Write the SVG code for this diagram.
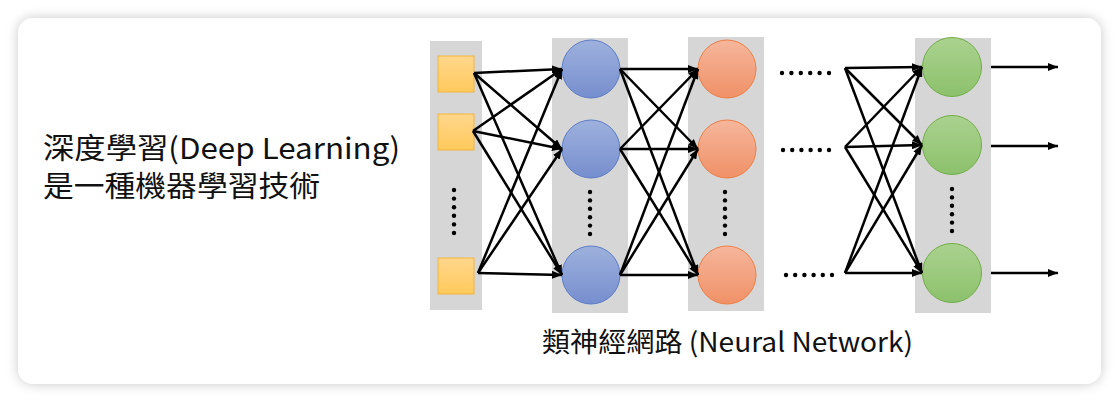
<svg xmlns="http://www.w3.org/2000/svg" width="1119" height="402" viewBox="0 0 1119 402">
<defs>
<filter id="sh" x="-5%" y="-10%" width="110%" height="120%">
<feDropShadow dx="0" dy="0" stdDeviation="6" flood-color="#000" flood-opacity="0.22"/>
</filter>
<linearGradient id="gy" x1="0" y1="0" x2="0" y2="1"><stop offset="0" stop-color="#FFD78C"/><stop offset="1" stop-color="#FFC95C"/></linearGradient>
<linearGradient id="gb" x1="0" y1="0" x2="0" y2="1"><stop offset="0" stop-color="#9EB1DD"/><stop offset="1" stop-color="#768ECE"/></linearGradient>
<linearGradient id="go" x1="0" y1="0" x2="0" y2="1"><stop offset="0" stop-color="#F6B69C"/><stop offset="1" stop-color="#F09167"/></linearGradient>
<linearGradient id="gg" x1="0" y1="0" x2="0" y2="1"><stop offset="0" stop-color="#AAD28F"/><stop offset="1" stop-color="#8CC16C"/></linearGradient>
<marker id="ah" viewBox="0 0 10 8" refX="10" refY="4" markerWidth="10" markerHeight="8" markerUnits="userSpaceOnUse" orient="auto"><path d="M0,0 L10,4 L0,8 Z" fill="#000"/></marker>
</defs>
<style>
.col{fill:#D6D6D6}
.sq{fill:url(#gy);stroke:#F2B53E;stroke-width:1}
.b{fill:url(#gb);stroke:#5B7CC6;stroke-width:1}
.o{fill:url(#go);stroke:#EE7E45;stroke-width:1}
.g{fill:url(#gg);stroke:#71AE48;stroke-width:1}
.dot{fill:#000}
#connectors line{stroke:#000;stroke-width:2.5;marker-end:url(#ah)}
.t{font-family:"Noto Sans CJK TC","Noto Sans",sans-serif;fill:#111}
</style>
<rect x="0" y="0" width="1119" height="402" fill="#FFFFFF"/>
<rect x="18" y="18" width="1083" height="366" rx="15" fill="#FFFFFF" filter="url(#sh)"/>

<g id="layer-input">
<rect class="col" x="430" y="41" width="52" height="269"/>
<rect class="sq" x="438" y="56" width="36" height="36"/>
<rect class="sq" x="438" y="114" width="36" height="36"/>
<rect class="sq" x="438" y="258" width="36" height="36"/>
<g class="dot"><circle cx="454" cy="190" r="2.2"/><circle cx="454" cy="198.6" r="2.2"/><circle cx="454" cy="207.2" r="2.2"/><circle cx="454" cy="215.8" r="2.2"/><circle cx="454" cy="224.4" r="2.2"/><circle cx="454" cy="233" r="2.2"/></g>
</g>

<g id="layer-hidden1">
<rect class="col" x="552" y="38" width="76" height="275"/>
<circle class="b" cx="591" cy="69" r="29"/>
<circle class="b" cx="591" cy="149" r="29"/>
<circle class="b" cx="591" cy="275" r="29"/>
<g class="dot"><circle cx="590" cy="192" r="2.2"/><circle cx="590" cy="200.4" r="2.2"/><circle cx="590" cy="208.8" r="2.2"/><circle cx="590" cy="217.2" r="2.2"/><circle cx="590" cy="225.6" r="2.2"/><circle cx="590" cy="234" r="2.2"/></g>
</g>

<g id="layer-hidden2">
<rect class="col" x="688" y="37" width="76" height="274"/>
<circle class="o" cx="727" cy="69" r="29"/>
<circle class="o" cx="727" cy="149" r="29"/>
<circle class="o" cx="727" cy="275" r="29"/>
<g class="dot"><circle cx="725" cy="192" r="2.2"/><circle cx="725" cy="200.4" r="2.2"/><circle cx="725" cy="208.8" r="2.2"/><circle cx="725" cy="217.2" r="2.2"/><circle cx="725" cy="225.6" r="2.2"/><circle cx="725" cy="234" r="2.2"/></g>
</g>

<g id="ellipsis-h">
<g class="dot"><circle cx="782" cy="73" r="2.2"/><circle cx="791.4" cy="73" r="2.2"/><circle cx="800.8" cy="73" r="2.2"/><circle cx="810.2" cy="73" r="2.2"/><circle cx="819.6" cy="73" r="2.2"/><circle cx="829" cy="73" r="2.2"/></g>
<g class="dot"><circle cx="783" cy="150" r="2.2"/><circle cx="792.2" cy="150" r="2.2"/><circle cx="801.4" cy="150" r="2.2"/><circle cx="810.6" cy="150" r="2.2"/><circle cx="819.8" cy="150" r="2.2"/><circle cx="829" cy="150" r="2.2"/></g>
<g class="dot"><circle cx="786" cy="275" r="2.2"/><circle cx="795.2" cy="275" r="2.2"/><circle cx="804.4" cy="275" r="2.2"/><circle cx="813.6" cy="275" r="2.2"/><circle cx="822.8" cy="275" r="2.2"/><circle cx="832" cy="275" r="2.2"/></g>
</g>

<g id="layer-output">
<rect class="col" x="915" y="38" width="76" height="275"/>
<circle class="g" cx="952" cy="67" r="29.5"/>
<circle class="g" cx="952" cy="145" r="29.5"/>
<circle class="g" cx="952" cy="273" r="29.5"/>
<g class="dot"><circle cx="952" cy="189" r="2.2"/><circle cx="952" cy="197.4" r="2.2"/><circle cx="952" cy="205.8" r="2.2"/><circle cx="952" cy="214.2" r="2.2"/><circle cx="952" cy="222.6" r="2.2"/><circle cx="952" cy="231" r="2.2"/></g>
</g>

<g id="connectors">
<line x1="474" y1="73" x2="562" y2="69"/>
<line x1="474" y1="73" x2="562" y2="149"/>
<line x1="474" y1="73" x2="562" y2="275"/>
<line x1="473" y1="131" x2="562" y2="69"/>
<line x1="473" y1="131" x2="562" y2="149"/>
<line x1="473" y1="131" x2="562" y2="275"/>
<line x1="478" y1="273" x2="562" y2="69"/>
<line x1="478" y1="273" x2="562" y2="149"/>
<line x1="478" y1="273" x2="562" y2="275"/>

<line x1="620" y1="69" x2="698" y2="69"/>
<line x1="620" y1="69" x2="698" y2="149"/>
<line x1="620" y1="69" x2="698" y2="275"/>
<line x1="620" y1="149" x2="698" y2="69"/>
<line x1="620" y1="149" x2="698" y2="149"/>
<line x1="620" y1="149" x2="698" y2="275"/>
<line x1="620" y1="275" x2="698" y2="69"/>
<line x1="620" y1="275" x2="698" y2="149"/>
<line x1="620" y1="275" x2="698" y2="275"/>

<line x1="845" y1="68" x2="922" y2="67"/>
<line x1="845" y1="68" x2="922" y2="145"/>
<line x1="845" y1="68" x2="922" y2="273"/>
<line x1="845" y1="147" x2="922" y2="67"/>
<line x1="845" y1="147" x2="922" y2="145"/>
<line x1="845" y1="147" x2="922" y2="273"/>
<line x1="845" y1="273" x2="922" y2="67"/>
<line x1="845" y1="273" x2="922" y2="145"/>
<line x1="845" y1="273" x2="922" y2="273"/>

<line x1="991" y1="67" x2="1058" y2="67"/>
<line x1="991" y1="146" x2="1058" y2="146"/>
<line x1="991" y1="273" x2="1058" y2="273"/>
</g>

<g id="caption-left">
<text class="t" x="43" y="159" font-size="29" textLength="357" lengthAdjust="spacingAndGlyphs">深度學習(Deep Learning)</text>
<text class="t" x="43" y="197" font-size="29" textLength="277" lengthAdjust="spacingAndGlyphs">是一種機器學習技術</text>
</g>
<g id="caption-bottom">
<text class="t" x="542" y="352" font-size="27" textLength="371" lengthAdjust="spacingAndGlyphs">類神經網路 (Neural Network)</text>
</g>
</svg>
